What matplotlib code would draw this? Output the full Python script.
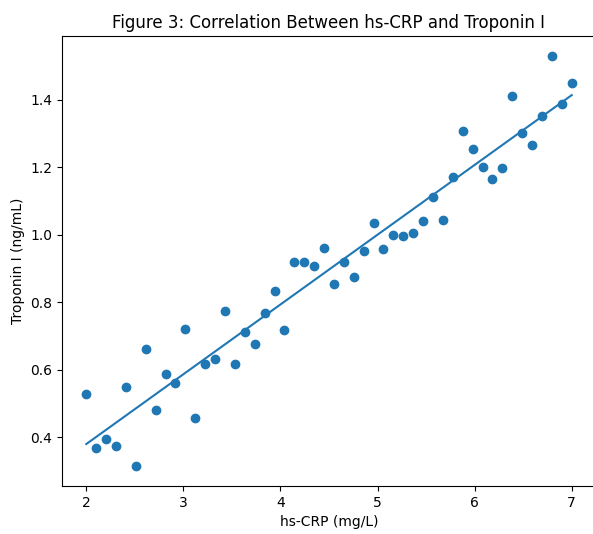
import numpy as np
import matplotlib
matplotlib.use('Agg')
import matplotlib.pyplot as plt

# hs-CRP values (mg/L), 50 evenly spaced readings
hs_crp = np.linspace(2, 7, 50)

# Troponin I values (ng/mL)
troponin = [
    0.528, 0.369, 0.396, 0.374, 0.549, 0.316, 0.661, 0.480, 0.587, 0.561,
    0.720, 0.458, 0.617, 0.633, 0.775, 0.617, 0.711, 0.675, 0.769, 0.833,
    0.719, 0.920, 0.920, 0.909, 0.961, 0.855, 0.921, 0.876, 0.951, 1.036,
    0.957, 0.999, 0.997, 1.006, 1.040, 1.113, 1.045, 1.172, 1.309, 1.256,
    1.200, 1.165, 1.197, 1.413, 1.301, 1.266, 1.353, 1.529, 1.388, 1.449,
]

fig = plt.figure(figsize=(5.93, 5.34), dpi=100)
# right spine falls just outside the picture in the reference
ax = fig.add_axes([62 / 593, 1 - 486 / 534, (596 - 62) / 593, (486 - 36) / 534])

ax.scatter(hs_crp, troponin)

# line of best fit
slope, intercept = np.polyfit(hs_crp, troponin, 1)
ax.plot(hs_crp, intercept + slope * hs_crp)

ax.set_title('Figure 3: Correlation Between hs-CRP and Troponin I')
ax.set_xlabel('hs-CRP (mg/L)')
ax.set_ylabel('Troponin I (ng/mL)')

fig.savefig('out.png', dpi=100)
